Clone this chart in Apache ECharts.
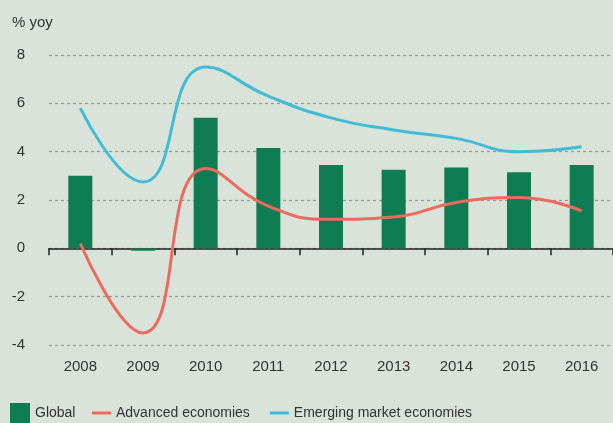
<!DOCTYPE html>
<html>
<head>
<meta charset="utf-8">
<script src="https://cdn.jsdelivr.net/npm/echarts@6/dist/echarts.min.js"></script>
<style>
  html, body { margin: 0; padding: 0; background: #d9e3da; }
  .chart { width: 613px; height: 423px; }
</style>
</head>
<body>
<div class="chart"></div>
<script>
var years = ['2008', '2009', '2010', '2011', '2012', '2013', '2014', '2015', '2016'];
var globalGrowth = [3.0, -0.1, 5.4, 4.15, 3.45, 3.25, 3.35, 3.15, 3.45];
var advanced = [0.2, -3.5, 3.3, 1.75, 1.2, 1.3, 1.9, 2.1, 1.55];
var emerging = [5.8, 2.75, 7.5, 6.3, 5.4, 4.9, 4.55, 4.0, 4.2];
var yTicks = { min: -4, max: 8, step: 2 };

var font = 'Liberation Sans, Arial, sans-serif';
var myChart = echarts.init(document.querySelector('.chart'));

myChart.setOption({
  backgroundColor: '#d9e3da',
  animation: false,
  textStyle: { fontFamily: font },
  title: {
    text: '% yoy',
    left: 7,
    top: 10,
    textStyle: { fontSize: 15, fontWeight: 'normal', color: '#333', fontFamily: font }
  },
  grid: { left: 49, width: 567, top: 55, bottom: 78 },
  legend: [{
    // square for the bars
    left: 5,
    top: 398,
    itemWidth: 20,
    itemHeight: 20,
    icon: 'rect',
    textStyle: { fontSize: 14, color: '#333', fontFamily: font },
    data: ['Global']
  }, {
    // short lines for the two curves
    left: 87,
    top: 401,
    itemWidth: 19,
    itemHeight: 3,
    itemGap: 20,
    icon: 'rect',
    textStyle: { fontSize: 14, color: '#333', fontFamily: font },
    data: ['Advanced economies', 'Emerging market economies']
  }],
  xAxis: [{
    // axis line at zero, ticks between years
    type: 'category',
    data: years,
    axisLine: { onZero: true, lineStyle: { color: '#222', width: 1.5 } },
    axisTick: { show: true, length: 7, lineStyle: { color: '#222', width: 1.5 } },
    axisLabel: { show: false }
  }, {
    // year labels at the bottom
    type: 'category',
    data: years,
    position: 'bottom',
    axisLine: { show: false, onZero: false },
    axisTick: { show: false },
    axisLabel: { margin: 14, fontSize: 15, color: '#333', fontFamily: font }
  }],
  yAxis: {
    type: 'value',
    min: yTicks.min,
    max: yTicks.max,
    interval: yTicks.step,
    axisLine: { show: false },
    axisTick: { show: false },
    axisLabel: { margin: 24, fontSize: 15, color: '#333', fontFamily: font },
    splitLine: { lineStyle: { color: '#999', type: [3, 3], width: 1.2 } }
  },
  series: [{
    name: 'Global',
    type: 'bar',
    data: globalGrowth,
    barWidth: 24,
    itemStyle: { color: '#0f7c53' },
    z: 1
  }, {
    name: 'Advanced economies',
    type: 'line',
    data: advanced,
    smooth: 0.5,
    symbol: 'none',
    lineStyle: { color: '#ec6a5e', width: 3 },
    itemStyle: { color: '#ec6a5e' },
    z: 3
  }, {
    name: 'Emerging market economies',
    type: 'line',
    data: emerging,
    smooth: 0.5,
    symbol: 'none',
    lineStyle: { color: '#41bcd4', width: 3 },
    itemStyle: { color: '#41bcd4' },
    z: 3
  }]
});
</script>
</body>
</html>
